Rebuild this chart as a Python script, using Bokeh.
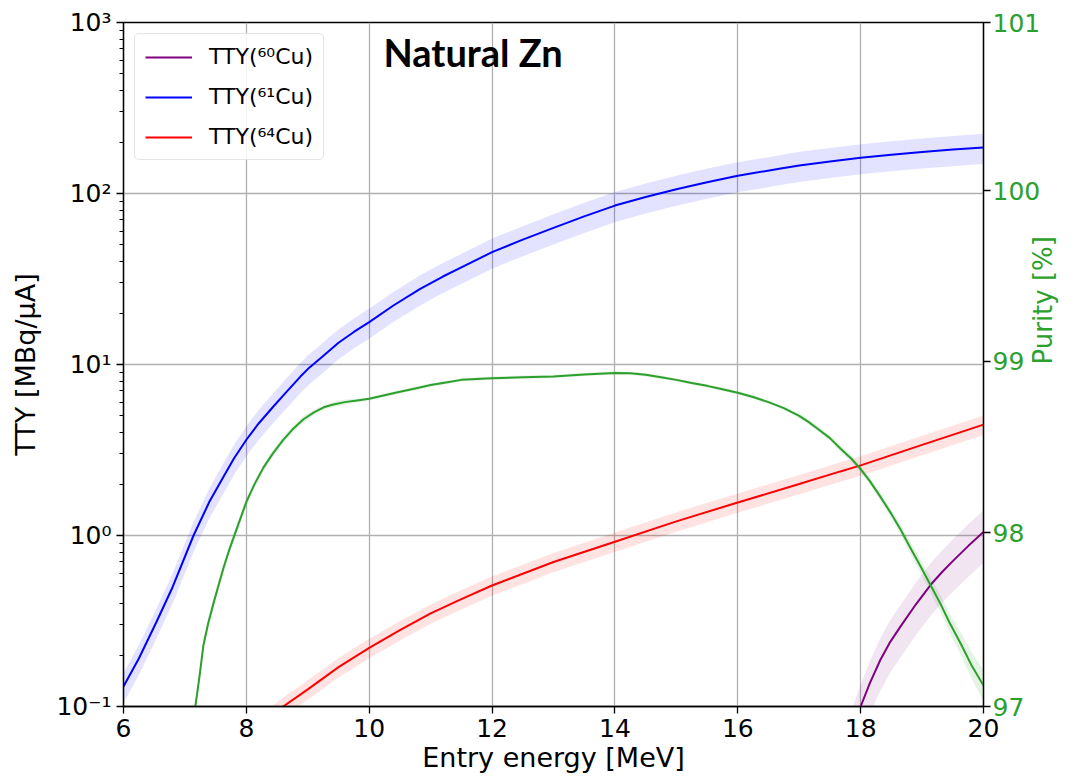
import math
from bokeh.plotting import figure
from bokeh.models import (Range1d, LinearAxis, FixedTicker, CustomJSTickFormatter,
                          Legend, LegendItem, Label)
from bokeh.embed import file_html
from bokeh.resources import INLINE

# ---------------- data ----------------
cu61_energy = [6.0, 6.25, 6.54, 6.8, 7.14, 7.4, 7.63, 7.8, 8.0, 8.2, 8.44, 8.65, 8.88,
               9.0, 9.25, 9.5, 9.75, 10.0, 10.4, 10.83, 11.2, 11.5, 12.0, 12.5, 13.0,
               13.5, 14.0, 14.5, 15.0, 15.5, 16.0, 16.7, 17.0, 17.5, 18.0, 18.5, 19.0,
               19.5, 20.0]
cu61_tty = [0.131, 0.191, 0.314, 0.50, 1.0, 1.58, 2.21, 2.83, 3.63, 4.52, 5.68, 6.9, 8.5,
            9.4, 11.2, 13.4, 15.5, 17.7, 22.2, 27.7, 32.7, 37.0, 45.4, 53.7, 63.0,
            73.5, 85.0, 95.5, 106.0, 116.5, 127.0, 140.0, 146.0, 154.0, 162.0, 168.6, 175.0,
            180.7, 186.0]
cu61_rel_unc = 0.20

cu64_energy = [8.0, 8.6, 9.0, 9.5, 10.0, 10.5, 11.0, 11.5, 12.0, 13.0, 14.0, 15.0, 16.0,
               17.0, 17.67, 18.0, 19.0, 20.0]
cu64_tty = [0.068, 0.1, 0.126, 0.17, 0.22, 0.28, 0.35, 0.425, 0.51, 0.70, 0.92, 1.21, 1.56,
            2.0, 2.37, 2.57, 3.39, 4.45]
cu64_rel_unc = 0.13

cu60_energy = [17.7, 18.0, 18.15, 18.32, 18.48, 18.65, 18.9, 19.14, 19.33, 19.52, 19.75, 20.0]
cu60_tty = [0.05, 0.1, 0.137, 0.187, 0.238, 0.294, 0.396, 0.515, 0.614, 0.72, 0.867, 1.05]
cu60_rel_unc = 0.34

purity_energy = [7.0, 7.1, 7.17, 7.24, 7.3, 7.38, 7.47, 7.55, 7.63, 7.72, 7.82, 7.9, 8.0,
                 8.13, 8.28, 8.43, 8.6, 8.75, 8.93, 9.1, 9.26, 9.4, 9.6, 9.8, 10.0, 10.25,
                 10.5, 10.75, 11.0, 11.25, 11.5, 11.75, 12.0, 12.5, 13.0, 13.5, 14.0, 14.25,
                 14.5, 14.75, 15.0, 15.25, 15.5, 15.75, 16.0, 16.25, 16.5, 16.75, 17.0,
                 17.15, 17.3, 17.5, 17.67, 17.85, 18.0, 18.15, 18.32, 18.5, 18.65, 18.8,
                 18.97, 19.15, 19.3, 19.45, 19.63, 19.8, 20.0]
purity_pct = [96.55, 96.8, 97.0, 97.18, 97.35, 97.48, 97.60, 97.70, 97.80, 97.90, 98.0,
              98.08, 98.18, 98.28, 98.38, 98.46, 98.54, 98.60, 98.66, 98.70, 98.73, 98.745,
              98.76, 98.77, 98.78, 98.80, 98.82, 98.84, 98.86, 98.875, 98.89, 98.895, 98.90,
              98.905, 98.91, 98.922, 98.93, 98.928, 98.92, 98.905, 98.89, 98.872, 98.855,
              98.835, 98.815, 98.79, 98.76, 98.725, 98.68, 98.645, 98.605, 98.55, 98.49,
              98.43, 98.37, 98.30, 98.21, 98.11, 98.02, 97.92, 97.81, 97.69, 97.59, 97.48,
              97.36, 97.24, 97.12]
purity_unc = [0.04, 0.04, 0.04, 0.035, 0.03, 0.03, 0.03, 0.03, 0.03, 0.025, 0.025, 0.025,
              0.025, 0.02, 0.02, 0.02, 0.02, 0.02, 0.02, 0.015, 0.015, 0.015, 0.015, 0.01,
              0.01, 0.01, 0.01, 0.01, 0.01, 0.01, 0.01, 0.01, 0.01, 0.01, 0.01, 0.01, 0.01,
              0.01, 0.01, 0.01, 0.01, 0.01, 0.01, 0.01, 0.01, 0.01, 0.01, 0.01, 0.015,
              0.015, 0.015, 0.015, 0.02, 0.02, 0.02, 0.02, 0.025, 0.025, 0.03, 0.035, 0.04,
              0.045, 0.05, 0.055, 0.065, 0.075, 0.09]

x_ticks = [6, 8, 10, 12, 14, 16, 18, 20]
tty_ticks = [0.1, 1, 10, 100, 1000]
tty_tick_labels = ["10\u207b\u00b9", "10\u2070", "10\u00b9", "10\u00b2", "10\u00b3"]
purity_ticks = [97, 98, 99, 100, 101]

legend_labels = ["TTY(\u2076\u2070Cu)", "TTY(\u2076\u00b9Cu)", "TTY(\u2076\u2074Cu)"]
title_text = "Natural Zn"
x_label = "Entry energy [MeV]"
y_label = "TTY [MBq/\u03bcA]"
y2_label = "Purity [%]"

# ---------------- styles ----------------
C60, C61, C64, CP = "#800080", "#0000ff", "#ff0000", "#2ca02c"
FONT = "DejaVu Sans"
TICK_FS = "25px"
LABEL_FS = "27px"

p = figure(width=1076, height=779, y_axis_type="log",
           x_range=Range1d(6, 20), y_range=Range1d(0.1, 1000),
           output_backend="svg", toolbar_location=None,
           min_border_left=123, min_border_right=93,
           min_border_top=22, min_border_bottom=73)
p.extra_y_ranges = {"purity": Range1d(97, 101)}
p.background_fill_color = "white"
p.border_fill_color = "white"
p.outline_line_color = "black"
p.outline_line_width = 1.3

minor = [k * 10.0 ** e for e in range(-1, 3) for k in range(2, 10)]

# axes
xa = p.xaxis[0]
xa.ticker = FixedTicker(ticks=x_ticks, minor_ticks=[])
ya = p.yaxis[0]
ya.ticker = FixedTicker(ticks=tty_ticks, minor_ticks=minor)
ya.formatter = CustomJSTickFormatter(args=dict(tvals=tty_ticks, tlabels=tty_tick_labels), code="""
    for (let i = 0; i < tvals.length; i++) {
        if (Math.abs(Math.log10(tick) - Math.log10(tvals[i])) < 1e-6) return tlabels[i];
    }
    return "";
""")
ra = LinearAxis(y_range_name="purity", ticker=FixedTicker(ticks=purity_ticks, minor_ticks=[]))
p.add_layout(ra, "right")

for ax in (xa, ya, ra):
    ax.axis_line_color = "black"
    ax.axis_line_width = 1.3
    ax.major_tick_line_color = "black"
    ax.major_tick_line_width = 1.3
    ax.major_tick_out = 7
    ax.major_tick_in = 0
    ax.minor_tick_line_color = "black"
    ax.minor_tick_out = 4
    ax.minor_tick_in = 0
    ax.major_label_text_font = FONT
    ax.major_label_text_font_size = TICK_FS
    ax.major_label_text_color = "black"
    ax.axis_label_text_font = FONT
    ax.axis_label_text_font_size = LABEL_FS
    ax.axis_label_text_font_style = "normal"
    ax.axis_label_text_color = "black"
    ax.major_label_standoff = 5

xa.axis_label = x_label
xa.axis_label_standoff = 2
ya.axis_label = y_label
ya.axis_label_standoff = 12
ra.major_label_text_color = CP
ra.major_label_standoff = 2
ra.axis_label = y2_label
ra.axis_label_text_color = CP
ra.axis_label_text_font_size = "26px"
ra.axis_label_standoff = 0
try:
    ra.axis_label_orientation = math.pi / 2
except Exception:
    pass

p.xgrid.ticker = FixedTicker(ticks=x_ticks, minor_ticks=[])
p.ygrid.ticker = FixedTicker(ticks=tty_ticks, minor_ticks=[])
for g in (p.xgrid[0], p.ygrid[0]):
    g.grid_line_color = "#b0b0b0"
    g.grid_line_width = 1.3

# uncertainty bands
def band(vals, u):
    return [v * (1 - u) for v in vals], [v * (1 + u) for v in vals]

lo60, hi60 = band(cu60_tty, cu60_rel_unc)
lo61, hi61 = band(cu61_tty, cu61_rel_unc)
lo64, hi64 = band(cu64_tty, cu64_rel_unc)
p.varea(x=cu60_energy, y1=lo60, y2=hi60, fill_color=C60, fill_alpha=0.1)
p.varea(x=cu61_energy, y1=lo61, y2=hi61, fill_color=C61, fill_alpha=0.11)
p.varea(x=cu64_energy, y1=lo64, y2=hi64, fill_color=C64, fill_alpha=0.11)

r60 = p.line(cu60_energy, cu60_tty, line_color=C60, line_width=2)
r61 = p.line(cu61_energy, cu61_tty, line_color=C61, line_width=2)
r64 = p.line(cu64_energy, cu64_tty, line_color=C64, line_width=2)

plo = [v - u for v, u in zip(purity_pct, purity_unc)]
phi = [v + u for v, u in zip(purity_pct, purity_unc)]
p.varea(x=purity_energy, y1=plo, y2=phi, fill_color=CP, fill_alpha=0.12, y_range_name="purity")
p.line(purity_energy, purity_pct, line_color=CP, line_width=2, y_range_name="purity")

legend = Legend(items=[LegendItem(label=legend_labels[0], renderers=[r60]),
                       LegendItem(label=legend_labels[1], renderers=[r61]),
                       LegendItem(label=legend_labels[2], renderers=[r64])],
                location="top_left", margin=11, padding=10, spacing=15,
                label_text_font=FONT, label_text_font_size="22px", label_text_color="black",
                glyph_width=47, glyph_height=24, label_height=24, label_standoff=17,
                border_line_color="#cccccc", border_line_width=1.2,
                background_fill_color="white", background_fill_alpha=0.85)
try:
    legend.border_radius = 5
except Exception:
    pass
p.add_layout(legend)

p.add_layout(Label(x=260, y=655, x_units="screen", y_units="screen", text=title_text,
                   text_font="Lato", text_font_style="bold", text_font_size="38px",
                   text_color="black", text_baseline="alphabetic", text_align="left"))

open("out.html", "w").write(file_html(p, INLINE))
